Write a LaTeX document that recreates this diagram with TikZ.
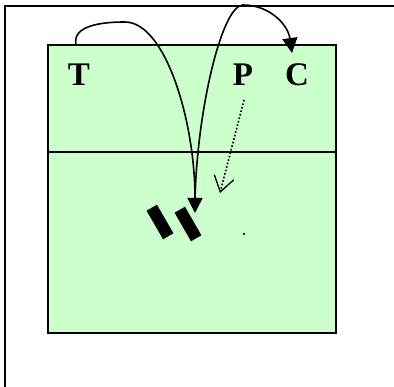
\documentclass[tikz,border=0pt]{standalone}
\usepackage{fontspec}
\setmainfont{Liberation Serif}
\usepackage{tikz}
\usetikzlibrary{arrows.meta, positioning, calc}
\definecolor{courtgreen}{RGB}{204, 255, 204}

\begin{document}
\begin{tikzpicture}[
    x=1pt, y=-1pt,
    player/.style={font=\fontsize{33}{36}\selectfont\bfseries, inner sep=0pt, anchor=center},
    bar/.style={rectangle, fill=black, minimum width=12pt, minimum height=33pt, inner sep=0pt, rotate=30},
    pass/.style={line width=1.6pt, -{Triangle[length=15pt, width=15pt]}},
    run/.style={line width=1.6pt, dotted, -{Straight Barb[length=15pt, width=20pt, line width=1.3pt]}}
]

\useasboundingbox (0,0) rectangle (394,387);

% Frame
\draw[line width=2pt] (5,387) -- (5,6) -- (394,6);

% Court
\draw[fill=courtgreen, line width=1.5pt] (48,45) rectangle (336,333);
\draw[line width=1.3pt] (48,152) -- (336,152);

% Players
\node[player] (T) at (79,75) {T};
\node[player] (P) at (243,75) {P};
\node[player] (C) at (297,75) {C};

% Target bars and spot
\node[bar] (bar1) at (160,222) {};
\node[bar] (bar2) at (188,224) {};
\node[circle, fill=black, inner sep=0pt, minimum size=2.5pt] (spot) at (244,234) {};

% Anchor points of the paths
\coordinate (tout) at (76,45);
\coordinate (tip) at (195,213);
\coordinate (back) at (195,200);
\coordinate (cin) at (292,53);
\coordinate (pout) at (244,100);
\coordinate (pin) at (220,193);

% Passes
\draw[pass] (tout) .. controls (72,26) and (100,22) .. (125,22)
    .. controls (165,22) and (195,120) .. (tip);
\draw[pass] (back) .. controls (197,110) and (222,5) .. (243,5)
    .. controls (270,5) and (288,25) .. (cin);

% Run of P
\draw[run] (pout) -- (pin);

\end{tikzpicture}
\end{document}
